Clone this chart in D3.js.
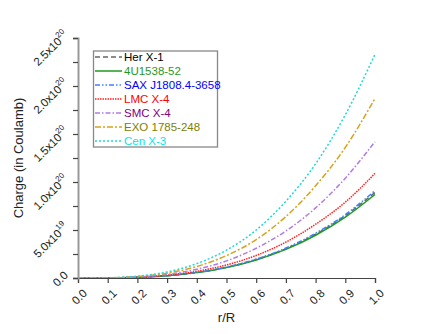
<!DOCTYPE html>
<html>
<head>
<meta charset="utf-8">
<script src="https://cdn.jsdelivr.net/npm/d3@7"></script>
<style>
  body { margin: 0; background: #fff; }
  text { font-family: "Liberation Sans", Arial, sans-serif; }
</style>
</head>
<body>
<div id="chart"></div>
<script>
// r/R sample points
const radius = [0, 0.1, 0.2, 0.3, 0.4, 0.5, 0.6, 0.7, 0.8, 0.9, 1.0];

// charge values, units of 1e20 C
const herX1 = [0, 0.0009, 0.0071, 0.024, 0.057, 0.111, 0.192, 0.305, 0.456, 0.650, 0.890];
const u1538 = [0, 0.0009, 0.0070, 0.0235, 0.056, 0.109, 0.188, 0.298, 0.445, 0.634, 0.870];
const saxJ = [0, 0.0009, 0.0073, 0.025, 0.058, 0.114, 0.197, 0.312, 0.466, 0.660, 0.910];
const lmcX4 = [0, 0.0011, 0.0087, 0.029, 0.070, 0.136, 0.235, 0.374, 0.560, 0.790, 1.090];
const smcX4 = [0, 0.0014, 0.011, 0.038, 0.091, 0.178, 0.310, 0.490, 0.730, 1.040, 1.420];
const exo1785 = [0, 0.0019, 0.015, 0.050, 0.120, 0.234, 0.400, 0.640, 0.960, 1.360, 1.870];
const cenX3 = [0, 0.0023, 0.019, 0.063, 0.150, 0.290, 0.500, 0.800, 1.190, 1.700, 2.330];

const seriesNames = ["Her X-1", "4U1538-52", "SAX J1808.4-3658", "LMC X-4", "SMC X-4", "EXO 1785-248", "Cen X-3"];
const seriesValues = [herX1, u1538, saxJ, lmcX4, smcX4, exo1785, cenX3];

const xTicks = [0, 0.1, 0.2, 0.3, 0.4, 0.5, 0.6, 0.7, 0.8, 0.9, 1.0];
const yTicks = [0, 0.5, 1.0, 1.5, 2.0, 2.5];
const yTickLabels = [["0.0", ""], ["5.0x10", "19"], ["1.0x10", "20"], ["1.5x10", "20"], ["2.0x10", "20"], ["2.5x10", "20"]];

const styles = [
  {line: "#666666", text: "#000000", dash: "5,3"},
  {line: "#1f9a1f", text: "#1f9a1f", dash: null},
  {line: "#4080ff", text: "#0000ff", dash: "5,2,1.5,2,1.5,2"},
  {line: "#ff2020", text: "#ff0000", dash: "1.5,1"},
  {line: "#b07ce8", text: "#800080", dash: "5,2,1.5,2"},
  {line: "#d9a21a", text: "#808000", dash: "6,2,2,2"},
  {line: "#20d8d8", text: "#00e8e8", dash: "2,2"}
];

const width = 436, height = 334;
const margin = {top: 38, right: 61, bottom: 56, left: 78};

let svg = d3.select("#chart")
  .append("svg")
  .attr("width", width)
  .attr("height", height);

let x = d3.scaleLinear().domain([0, 1]).range([margin.left, width - margin.right]);
let y = d3.scaleLinear().domain([0, 2.5]).range([height - margin.bottom, margin.top]);

// lines
let line = d3.line()
  .x((d, i) => x(radius[i]))
  .y(d => y(d))
  .curve(d3.curveMonotoneX);

seriesValues.forEach(function(vals, i) {
  svg.append("path")
    .attr("d", line(vals))
    .attr("fill", "none")
    .attr("stroke", styles[i].line)
    .attr("stroke-width", 1.5)
    .attr("stroke-dasharray", styles[i].dash);
});

// x axis
let xAxis = d3.axisBottom(x).tickValues(xTicks).tickSize(5).tickFormat("");
let gx = svg.append("g")
  .attr("transform", "translate(0," + y(0) + ")")
  .call(xAxis);
gx.select(".domain").attr("stroke", "#444").attr("stroke-width", 1.2);
gx.selectAll(".tick line").attr("stroke", "#444").attr("stroke-width", 1.2);

xTicks.forEach(function(t) {
  svg.append("text")
    .attr("transform", "translate(" + (x(t) + 7) + "," + (y(0) + 13) + ") rotate(-45)")
    .attr("text-anchor", "end")
    .attr("dy", "0.35em")
    .attr("font-size", 11.5)
    .attr("fill", "#222")
    .text(t.toFixed(1));
});

// y axis
let yAxis = d3.axisLeft(y).tickValues(d3.range(0, 2.51, 0.25)).tickSize(5).tickFormat("");
let gy = svg.append("g")
  .attr("transform", "translate(" + x(0) + ",0)")
  .call(yAxis);
gy.select(".domain").attr("stroke", "#999").attr("stroke-width", 2);
gy.selectAll(".tick line").attr("stroke", "#444").attr("stroke-width", 1.2);

yTicks.forEach(function(t, i) {
  let lab = svg.append("text")
    .attr("transform", "translate(" + (x(0) - 12) + "," + (y(t) - 5) + ") rotate(-45)")
    .attr("text-anchor", "end")
    .attr("dy", "0.35em")
    .attr("font-size", 11.5)
    .attr("fill", "#222");
  lab.append("tspan").text(yTickLabels[i][0]);
  if (yTickLabels[i][1]) {
    lab.append("tspan")
      .attr("font-size", 8)
      .attr("dy", "-0.7em")
      .text(yTickLabels[i][1]);
  }
});

// axis titles
svg.append("text")
  .attr("x", x(0.5))
  .attr("y", 322)
  .attr("text-anchor", "middle")
  .attr("font-size", 13)
  .attr("fill", "#222")
  .text("r/R");

svg.append("text")
  .attr("transform", "translate(23," + 158 + ") rotate(-90)")
  .attr("text-anchor", "middle")
  .attr("font-size", 13)
  .attr("fill", "#222")
  .text("Charge (in Coulamb)");

// legend
let legend = svg.append("g");
legend.append("rect")
  .attr("x", 93.5)
  .attr("y", 51)
  .attr("width", 124)
  .attr("height", 96)
  .attr("fill", "#fff")
  .attr("stroke", "#888")
  .attr("stroke-width", 1.3);

seriesNames.forEach(function(name, i) {
  let cy = 57 + i * 14;
  legend.append("line")
    .attr("x1", 95).attr("x2", 122)
    .attr("y1", cy).attr("y2", cy)
    .attr("stroke", styles[i].line)
    .attr("stroke-width", 1.5)
    .attr("stroke-dasharray", styles[i].dash);
  legend.append("text")
    .attr("x", 124)
    .attr("y", cy)
    .attr("dy", "0.36em")
    .attr("font-size", 11.5)
    .attr("fill", styles[i].text)
    .text(name);
});
</script>
</body>
</html>
